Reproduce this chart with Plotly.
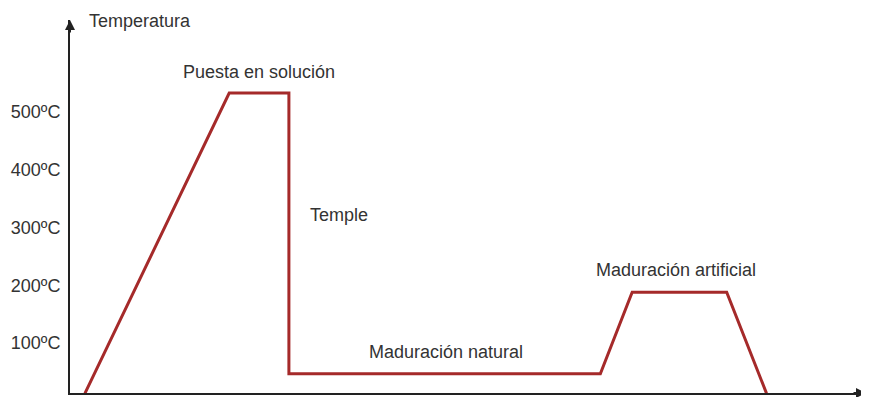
import plotly.graph_objects as go

# ciclo de tratamiento térmico (tiempo arbitrario vs temperatura)
tiempo = [15, 160, 220, 220, 533, 565, 660, 700]
temperatura = [13, 533, 533, 47, 47, 188, 188, 13]

ticks_temp = [100, 200, 300, 400, 500]
ticks_text = ["100ºC", "200ºC", "300ºC", "400ºC", "500ºC"]

# etiquetas de las etapas: (texto, x, y, alineación)
etapas = [
    ("Puesta en solución", 190, 569, "center"),
    ("Temple", 239, 322, "left"),
    ("Maduración natural", 378, 85, "center"),
    ("Maduración artificial", 609, 226, "center"),
]

fuente = "Liberation Sans, Arial, sans-serif"
texto_color = "#333333"
tam = 18

fig = go.Figure()
fig.add_trace(go.Scatter(
    x=tiempo, y=temperatura,
    mode="lines",
    line=dict(color="#a52a2a", width=3),
    hoverinfo="skip",
    cliponaxis=False,
))

annotations = []
for txt, x, y, al in etapas:
    annotations.append(dict(
        text=txt, x=x, y=y, xref="x", yref="y",
        xanchor=al, yanchor="middle", showarrow=False,
        font=dict(family=fuente, size=tam, color=texto_color),
    ))

# título del eje y, arriba a la izquierda
annotations.append(dict(
    text="Temperatura", x=0.021, y=1, xref="paper", yref="paper",
    xanchor="left", yanchor="middle", yshift=-1, showarrow=False,
    font=dict(family=fuente, size=tam, color=texto_color),
))

# flechas de los ejes
annotations.append(dict(
    text="", x=0, y=1, xref="paper", yref="paper",
    ax=0, ay=14, showarrow=True, arrowhead=2, arrowsize=1,
    arrowwidth=2, arrowcolor="#222222",
))
annotations.append(dict(
    text="", x=1, y=0, xref="paper", yref="paper",
    ax=-14, ay=0, showarrow=True, arrowhead=2, arrowsize=1,
    arrowwidth=2, arrowcolor="#222222",
))

# la página tiene un margen de 8 px en el body
fig.update_layout(
    width=861, height=389,
    margin=dict(l=58, r=3, t=12, b=4),
    paper_bgcolor="white", plot_bgcolor="white",
    showlegend=False,
    annotations=annotations,
    font=dict(family=fuente, size=tam, color=texto_color),
)
fig.update_xaxes(
    range=[0, 800], showgrid=False, zeroline=False,
    showticklabels=False, ticks="",
    showline=True, linecolor="#222222", linewidth=2,
)
fig.update_yaxes(
    range=[13.6, 659.5], showgrid=False, zeroline=False,
    tickvals=ticks_temp, ticktext=ticks_text, ticks="",
    ticklabelstandoff=4,
    showline=True, linecolor="#222222", linewidth=2,
)

fig.write_html("out.html")
